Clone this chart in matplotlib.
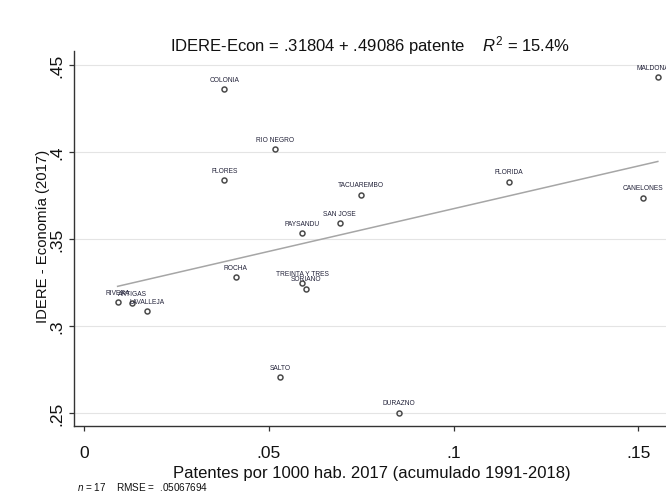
import matplotlib
matplotlib.use("Agg")
import matplotlib.pyplot as plt

# Departamentos: patentes por 1000 hab. vs IDERE - Economía (2017)
departamentos = ["COLONIA", "RIO NEGRO", "FLORES", "TACUAREMBO", "FLORIDA",
                 "MALDONADO", "CANELONES", "SAN JOSE", "PAYSANDU", "ROCHA",
                 "TREINTA Y TRES", "SORIANO", "RIVERA", "ARTIGAS", "LAVALLEJA",
                 "SALTO", "DURAZNO"]
patentes = [0.0380, 0.0517, 0.0380, 0.0750, 0.1151,
            0.1553, 0.1514, 0.0692, 0.0591, 0.0411,
            0.0591, 0.0602, 0.0091, 0.0131, 0.0171,
            0.0530, 0.0853]
idere_econ = [0.4359, 0.4013, 0.3836, 0.3752, 0.3826,
              0.4426, 0.3733, 0.3587, 0.3530, 0.3277,
              0.3244, 0.3211, 0.3135, 0.3128, 0.3082,
              0.2702, 0.2499]

# Ajuste lineal reportado
intercepto = 0.31804
pendiente = 0.49086
r2_pct = "15.4"
n_obs = 17
rmse = ".05067694"

x_ticks = [0, 0.05, 0.10, 0.15]
x_tick_labels = ["0", ".05", ".1", ".15"]
y_ticks = [0.25, 0.30, 0.35, 0.40, 0.45]
y_tick_labels = [".25", ".3", ".35", ".4", ".45"]

plt.rcParams["font.family"] = ["Liberation Sans", "DejaVu Sans"]
plt.rcParams["mathtext.fontset"] = "custom"
plt.rcParams["mathtext.rm"] = "Liberation Sans"
plt.rcParams["mathtext.it"] = "Liberation Sans:italic"

W, H = 666, 502
fig = plt.figure(figsize=(W / 100, H / 100), dpi=100)
fig.patch.set_facecolor("white")

ax_left, ax_right, ax_top, ax_bottom = 74, 666, 52, 427
ax = fig.add_axes([ax_left / W, 1 - ax_bottom / H,
                   (ax_right - ax_left) / W, (ax_bottom - ax_top) / H])

px_x = 3695.0
px_y = 1740.0
ax.set_xlim(-(84 - ax_left) / px_x, (ax_right - 84) / px_x)
ax.set_ylim(0.25 - (ax_bottom - 413.5) / px_y, 0.45 + (65.5 - ax_top) / px_y)

ax.set_yticks(y_ticks)
ax.set_yticklabels(y_tick_labels, rotation=90, va="center")
ax.set_xticks(x_ticks)
ax.set_xticklabels(x_tick_labels)
ax.tick_params(axis="both", direction="out", length=3.6, width=0.9,
               color="#333333", labelsize=12.5, labelcolor="#111111")
ax.tick_params(axis="x", pad=10)
ax.tick_params(axis="y", pad=3.5)

for side in ("top", "right"):
    ax.spines[side].set_visible(False)
for side in ("left", "bottom"):
    ax.spines[side].set_color("#333333")
    ax.spines[side].set_linewidth(1.0)

ax.yaxis.grid(True, color="#e4e4e4", linewidth=0.8)
ax.set_axisbelow(True)

# Recta de regresión
x0, x1 = min(patentes), max(patentes)
ax.plot([x0, x1], [intercepto + pendiente * x0, intercepto + pendiente * x1],
        color="#a6a6a6", linewidth=1.1, zorder=2)

# Puntos
ax.plot(patentes, idere_econ, linestyle="none", marker="o", markersize=3.6,
        markerfacecolor="none", markeredgecolor="#4a4a4a",
        markeredgewidth=1.1, zorder=3, clip_on=False)

for name, xv, yv in zip(departamentos, patentes, idere_econ):
    ax.annotate(name, (xv, yv), xytext=(0, 7.2), textcoords="offset points",
                ha="center", va="center", fontsize=4.8, color="#23233a",
                annotation_clip=False)

# Títulos
fig.text(370.5 / W, 1 - 51 / H,
         "IDERE-Econ = .31804 + .49086 patente    $R^2$ = " + r2_pct + "%",
         ha="center", va="baseline", fontsize=12, color="#111111")
fig.text(372 / W, 1 - 478 / H,
         "Patentes por 1000 hab. 2017 (acumulado 1991-2018)",
         ha="center", va="baseline", fontsize=12, color="#111111")
fig.text(43 / W, 1 - 236 / H, "IDERE - Economía (2017)", rotation=90,
         ha="center", va="center", fontsize=10.7, color="#111111")
fig.text(77 / W, 1 - 491 / H,
         "$n$ = " + str(n_obs) + "    RMSE =  " + rmse,
         ha="left", va="baseline", fontsize=7.2, color="#111111")

fig.savefig("out.png", dpi=100, facecolor="white")
